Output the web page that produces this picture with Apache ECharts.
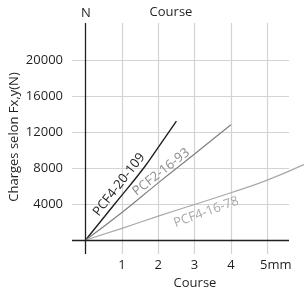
<!DOCTYPE html>
<html>
<head>
<meta charset="utf-8">
<title>Charges selon Fx,y</title>
<script src="https://cdn.jsdelivr.net/npm/echarts@6/dist/echarts.min.js"></script>
<style>html,body{margin:0;padding:0;background:#fff;}</style>
</head>
<body>
<div id="main" style="width:304px;height:289px;"></div>
<script type="text/javascript">
// axis ticks
var xTicks = [1, 2, 3, 4, 5];
var yTicks = [4000, 8000, 12000, 16000, 20000];

// courbes (course mm, charge N)
var names = ['PCF4-20-109', 'PCF2-16-93', 'PCF4-16-78'];
var pcf4_20_109 = [[0, 0], [0.8, 4000], [1.6, 8000], [2, 10300], [2.5, 13200]];
var pcf2_16_93 = [[0, 0], [1, 3050], [2, 6350], [3, 9550], [4, 12800]];
var pcf4_16_78 = [[0, 0], [1, 1300], [2, 2650], [3, 3950], [4, 5250], [5, 6650], [6.1, 8550]];

// where the curve names sit (data coords) and their angle
var labelAnchors = [[0.92, 6150], [2.08, 7550], [3.32, 3100]];
var labelAngles = [52, 38, 20];

var ink = '#231f20';
var lineColors = [ink, '#808080', '#a9a9a9'];
var textColors = [ink, '#8c8c8c', '#a9a9a9'];
var font = '"Open Sans", sans-serif';

var xMin = -0.375, xMax = 5.6, yMin = -1550, yMax = 24100;
var gridLeft = 72, gridRight = 15;
// second grid: same scale, but runs to the right edge so the flat curve leaves the frame
var pxPerUnit = (304 - gridLeft - gridRight) / (xMax - xMin);
var xMaxWide = xMin + (304 - gridLeft) / pxPerUnit;

var myChart = echarts.init(document.getElementById('main'));

function curve(i, data) {
	return {
		type: 'line',
		name: names[i],
		xAxisIndex: 1,
		yAxisIndex: 1,
		data: data,
		smooth: true,
		showSymbol: false,
		silent: true,
		lineStyle: { color: lineColors[i], width: i === 0 ? 1.4 : 1.2 }
	};
}

var series = [curve(0, pcf4_20_109), curve(1, pcf2_16_93), curve(2, pcf4_16_78)];
// axes drawn through the origin
series.push({
	type: 'line',
	data: [[0, 0]],
	showSymbol: false,
	silent: true,
	markLine: {
		silent: true,
		symbol: ['none', 'none'],
		label: { show: false },
		lineStyle: { color: ink, width: 1.3, type: 'solid' },
		data: [{ yAxis: 0 }, { xAxis: 0 }]
	}
});

var option = {
	animation: false,
	grid: [
		{ left: gridLeft, right: gridRight, top: 23, bottom: 35, containLabel: false, outerBoundsMode: 'none' },
		{ left: gridLeft, right: 0, top: 23, bottom: 35, containLabel: false, outerBoundsMode: 'none' }
	],
	xAxis: [{
		type: 'value',
		min: xMin,
		max: xMax,
		name: 'Course',
		nameLocation: 'middle',
		nameGap: 20,
		nameTextStyle: { color: ink, fontSize: 13, fontFamily: font, padding: [0, 0, 0, 29] },
		axisLine: { show: false, onZero: false },
		axisTick: { show: false, customValues: xTicks },
		axisLabel: {
			customValues: xTicks,
			color: ink, fontSize: 13, fontFamily: font, margin: 5,
			formatter: function (v) { return v === 5 ? '{p|}5mm' : String(v); },
			rich: { p: { width: 17 } }
		},
		splitLine: { show: true, lineStyle: { color: '#d3d3d3', width: 1.2 } }
	}, {
		type: 'value', gridIndex: 1, min: xMin, max: xMaxWide, show: false
	}],
	yAxis: [{
		type: 'value',
		min: yMin,
		max: yMax,
		name: 'N',
		nameLocation: 'end',
		nameGap: 3,
		nameTextStyle: { color: ink, fontSize: 13, fontFamily: font, padding: [0, 0, 0, 28] },
		axisLine: { show: false, onZero: false },
		axisTick: { show: false, customValues: yTicks },
		axisLabel: {
			customValues: yTicks, color: ink, fontSize: 13, fontFamily: font, margin: 9,
			formatter: function (v) { return String(v); }
		},
		splitLine: { show: true, lineStyle: { color: '#d3d3d3', width: 1.2 } }
	}, {
		type: 'value', gridIndex: 1, min: yMin, max: yMax, show: false
	}],
	series: series
};
myChart.setOption(option);

// texts: top title, rotated y title, curve names
var graphics = [
	{ type: 'text', x: 171, y: 12, silent: true,
	  style: { text: 'Course', font: '13px ' + font, fill: ink, align: 'center', verticalAlign: 'middle' } },
	{ type: 'text', x: 14, y: 137, rotation: Math.PI / 2, silent: true,
	  style: { text: 'Charges selon Fx,y(N)', font: '13px ' + font, fill: ink, align: 'center', verticalAlign: 'middle' } }
];
for (var i = 0; i < names.length; i++) {
	var p = myChart.convertToPixel({ gridIndex: 0 }, labelAnchors[i]);
	graphics.push({
		type: 'text', x: p[0], y: p[1], rotation: labelAngles[i] * Math.PI / 180, silent: true,
		style: { text: names[i], font: '13px ' + font, fill: textColors[i], align: 'center', verticalAlign: 'middle' }
	});
}
myChart.setOption({ graphic: graphics });
</script>
</body>
</html>
